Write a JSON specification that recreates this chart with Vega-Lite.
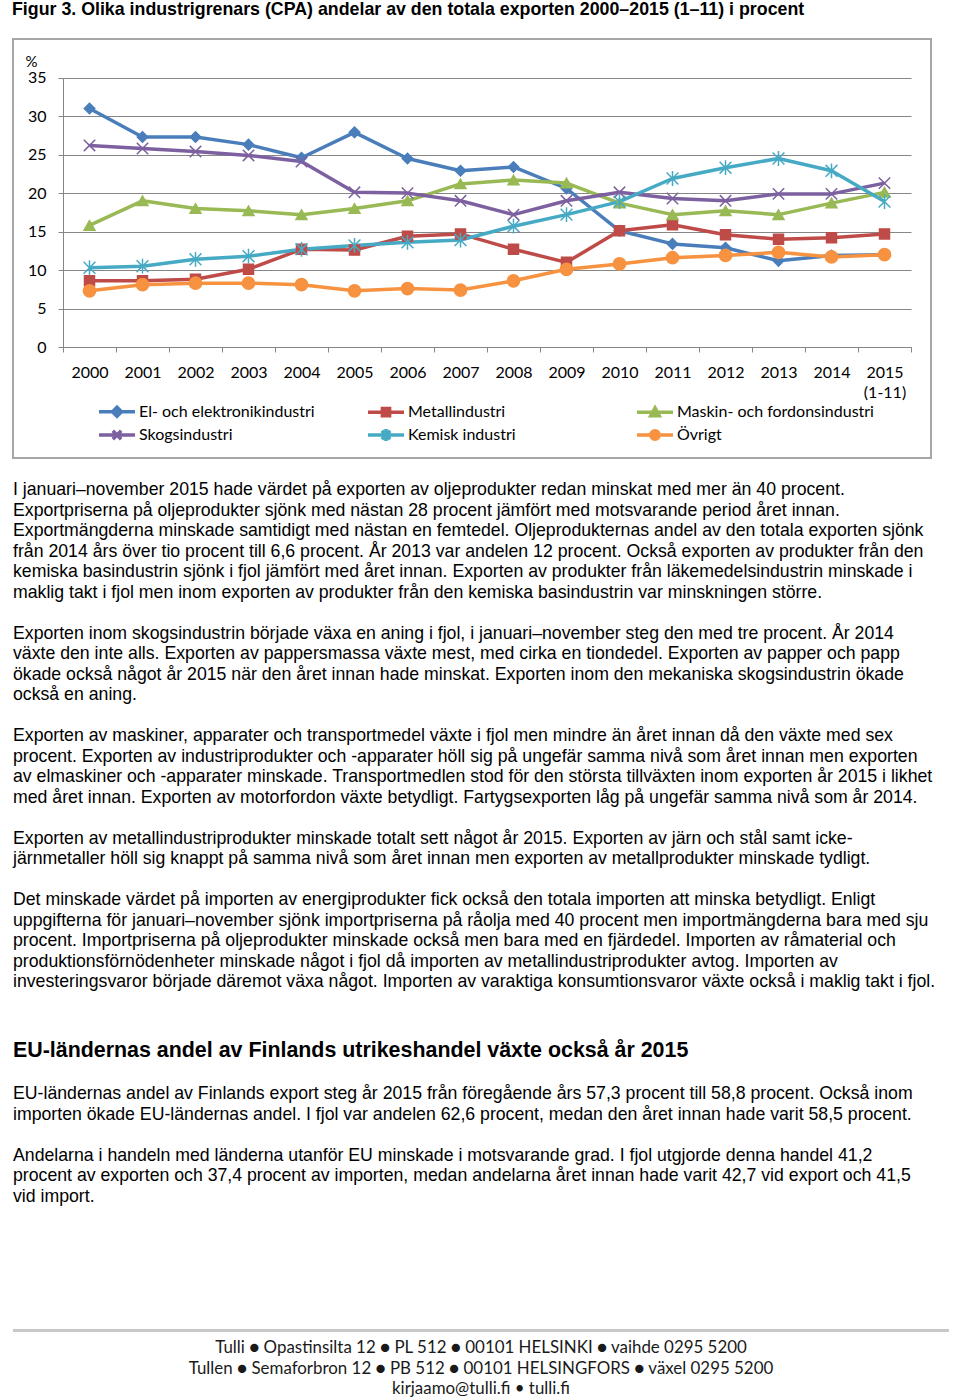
{
  "$schema": "https://vega.github.io/schema/vega-lite/v6.json",
  "background": "white",
  "padding": {"left": 12, "top": 1, "right": 12, "bottom": 0},
  "bounds": "flush",
  "spacing": 32,
  "title": {
    "text": "Figur 3. Olika industrigrenars (CPA) andelar av den totala exporten 2000–2015 (1–11) i procent",
    "anchor": "start",
    "font": "Liberation Sans",
    "fontSize": 17.8,
    "fontWeight": "bold",
    "color": "#000000",
    "offset": 19
  },
  "config": {
    "view": {"stroke": null},
    "font": "Lato"
  },
  "vconcat": [
    {
      "width": 918,
      "height": 419,
      "view": {"stroke": "#a6a6a6", "strokeWidth": 2},
      "data": {
        "values": [
          {"series": "El- och elektronikindustri", "year": "2000", "value": 31.0},
          {"series": "El- och elektronikindustri", "year": "2001", "value": 27.3},
          {"series": "El- och elektronikindustri", "year": "2002", "value": 27.3},
          {"series": "El- och elektronikindustri", "year": "2003", "value": 26.3},
          {"series": "El- och elektronikindustri", "year": "2004", "value": 24.6},
          {"series": "El- och elektronikindustri", "year": "2005", "value": 27.9},
          {"series": "El- och elektronikindustri", "year": "2006", "value": 24.5},
          {"series": "El- och elektronikindustri", "year": "2007", "value": 22.9},
          {"series": "El- och elektronikindustri", "year": "2008", "value": 23.4},
          {"series": "El- och elektronikindustri", "year": "2009", "value": 20.6},
          {"series": "El- och elektronikindustri", "year": "2010", "value": 15.1},
          {"series": "El- och elektronikindustri", "year": "2011", "value": 13.4},
          {"series": "El- och elektronikindustri", "year": "2012", "value": 12.9},
          {"series": "El- och elektronikindustri", "year": "2013", "value": 11.2},
          {"series": "El- och elektronikindustri", "year": "2014", "value": 11.9},
          {"series": "El- och elektronikindustri", "year": "2015", "value": 12.0},
          {"series": "Metallindustri", "year": "2000", "value": 8.6},
          {"series": "Metallindustri", "year": "2001", "value": 8.6},
          {"series": "Metallindustri", "year": "2002", "value": 8.8},
          {"series": "Metallindustri", "year": "2003", "value": 10.1},
          {"series": "Metallindustri", "year": "2004", "value": 12.7},
          {"series": "Metallindustri", "year": "2005", "value": 12.6},
          {"series": "Metallindustri", "year": "2006", "value": 14.4},
          {"series": "Metallindustri", "year": "2007", "value": 14.7},
          {"series": "Metallindustri", "year": "2008", "value": 12.7},
          {"series": "Metallindustri", "year": "2009", "value": 11.0},
          {"series": "Metallindustri", "year": "2010", "value": 15.1},
          {"series": "Metallindustri", "year": "2011", "value": 15.9},
          {"series": "Metallindustri", "year": "2012", "value": 14.6},
          {"series": "Metallindustri", "year": "2013", "value": 14.0},
          {"series": "Metallindustri", "year": "2014", "value": 14.2},
          {"series": "Metallindustri", "year": "2015", "value": 14.7},
          {"series": "Maskin- och fordonsindustri", "year": "2000", "value": 15.8},
          {"series": "Maskin- och fordonsindustri", "year": "2001", "value": 19.0},
          {"series": "Maskin- och fordonsindustri", "year": "2002", "value": 18.0},
          {"series": "Maskin- och fordonsindustri", "year": "2003", "value": 17.7},
          {"series": "Maskin- och fordonsindustri", "year": "2004", "value": 17.2},
          {"series": "Maskin- och fordonsindustri", "year": "2005", "value": 18.0},
          {"series": "Maskin- och fordonsindustri", "year": "2006", "value": 19.0},
          {"series": "Maskin- och fordonsindustri", "year": "2007", "value": 21.2},
          {"series": "Maskin- och fordonsindustri", "year": "2008", "value": 21.7},
          {"series": "Maskin- och fordonsindustri", "year": "2009", "value": 21.3},
          {"series": "Maskin- och fordonsindustri", "year": "2010", "value": 18.7},
          {"series": "Maskin- och fordonsindustri", "year": "2011", "value": 17.2},
          {"series": "Maskin- och fordonsindustri", "year": "2012", "value": 17.7},
          {"series": "Maskin- och fordonsindustri", "year": "2013", "value": 17.2},
          {"series": "Maskin- och fordonsindustri", "year": "2014", "value": 18.7},
          {"series": "Maskin- och fordonsindustri", "year": "2015", "value": 20.1},
          {"series": "Skogsindustri", "year": "2000", "value": 26.2},
          {"series": "Skogsindustri", "year": "2001", "value": 25.8},
          {"series": "Skogsindustri", "year": "2002", "value": 25.4},
          {"series": "Skogsindustri", "year": "2003", "value": 24.9},
          {"series": "Skogsindustri", "year": "2004", "value": 24.1},
          {"series": "Skogsindustri", "year": "2005", "value": 20.1},
          {"series": "Skogsindustri", "year": "2006", "value": 20.0},
          {"series": "Skogsindustri", "year": "2007", "value": 19.0},
          {"series": "Skogsindustri", "year": "2008", "value": 17.2},
          {"series": "Skogsindustri", "year": "2009", "value": 19.0},
          {"series": "Skogsindustri", "year": "2010", "value": 20.1},
          {"series": "Skogsindustri", "year": "2011", "value": 19.3},
          {"series": "Skogsindustri", "year": "2012", "value": 19.0},
          {"series": "Skogsindustri", "year": "2013", "value": 19.9},
          {"series": "Skogsindustri", "year": "2014", "value": 19.9},
          {"series": "Skogsindustri", "year": "2015", "value": 21.3},
          {"series": "Kemisk industri", "year": "2000", "value": 10.3},
          {"series": "Kemisk industri", "year": "2001", "value": 10.5},
          {"series": "Kemisk industri", "year": "2002", "value": 11.4},
          {"series": "Kemisk industri", "year": "2003", "value": 11.8},
          {"series": "Kemisk industri", "year": "2004", "value": 12.7},
          {"series": "Kemisk industri", "year": "2005", "value": 13.2},
          {"series": "Kemisk industri", "year": "2006", "value": 13.6},
          {"series": "Kemisk industri", "year": "2007", "value": 13.9},
          {"series": "Kemisk industri", "year": "2008", "value": 15.7},
          {"series": "Kemisk industri", "year": "2009", "value": 17.2},
          {"series": "Kemisk industri", "year": "2010", "value": 18.9},
          {"series": "Kemisk industri", "year": "2011", "value": 21.9},
          {"series": "Kemisk industri", "year": "2012", "value": 23.3},
          {"series": "Kemisk industri", "year": "2013", "value": 24.5},
          {"series": "Kemisk industri", "year": "2014", "value": 22.9},
          {"series": "Kemisk industri", "year": "2015", "value": 18.9},
          {"series": "Övrigt", "year": "2000", "value": 7.3},
          {"series": "Övrigt", "year": "2001", "value": 8.1},
          {"series": "Övrigt", "year": "2002", "value": 8.3},
          {"series": "Övrigt", "year": "2003", "value": 8.3},
          {"series": "Övrigt", "year": "2004", "value": 8.1},
          {"series": "Övrigt", "year": "2005", "value": 7.3},
          {"series": "Övrigt", "year": "2006", "value": 7.6},
          {"series": "Övrigt", "year": "2007", "value": 7.4},
          {"series": "Övrigt", "year": "2008", "value": 8.6},
          {"series": "Övrigt", "year": "2009", "value": 10.1},
          {"series": "Övrigt", "year": "2010", "value": 10.8},
          {"series": "Övrigt", "year": "2011", "value": 11.6},
          {"series": "Övrigt", "year": "2012", "value": 11.9},
          {"series": "Övrigt", "year": "2013", "value": 12.3},
          {"series": "Övrigt", "year": "2014", "value": 11.7},
          {"series": "Övrigt", "year": "2015", "value": 12.0}
        ]
      },
      "encoding": {
        "x": {
          "field": "year",
          "type": "ordinal",
          "bandPosition": 0.5,
          "scale": {"type": "band", "range": [50, 898], "paddingInner": 0, "paddingOuter": 0},
          "axis": {
            "orient": "bottom",
            "offset": -111,
            "title": null,
            "grid": false,
            "domain": true,
            "domainColor": "#868686",
            "domainWidth": 1,
            "ticks": true,
            "tickBand": "extent",
            "tickSize": 5,
            "tickColor": "#868686",
            "labelAngle": 0,
            "labelPadding": 12,
            "labelFont": "Lato",
            "labelFontSize": 16,
            "labelColor": "#000000",
            "labelLineHeight": 20,
            "labelExpr": "datum.value == '2015' ? ['2015', '(1-11)'] : datum.label"
          }
        },
        "y": {
          "field": "value",
          "type": "quantitative",
          "scale": {"domain": [0, 35], "range": [308, 38.7], "nice": false, "zero": true},
          "axis": {
            "orient": "left",
            "offset": -50,
            "values": [0, 5, 10, 15, 20, 25, 30, 35],
            "grid": true,
            "gridColor": "#868686",
            "gridWidth": 1,
            "domain": true,
            "domainColor": "#868686",
            "ticks": true,
            "tickSize": 5,
            "tickColor": "#868686",
            "labelPadding": 12,
            "labelFont": "Lato",
            "labelFontSize": 16,
            "labelColor": "#000000",
            "title": "%",
            "titleAngle": 0,
            "titleX": -32,
            "titleY": 22,
            "titleAlign": "center",
            "titleBaseline": "middle",
            "titleFont": "Lato",
            "titleFontSize": 15,
            "titleFontWeight": "normal",
            "titleColor": "#000000"
          }
        }
      },
      "layer": [
        {
          "mark": {"type": "line", "strokeWidth": 3.5, "strokeJoin": "round"},
          "encoding": {
            "color": {
              "field": "series",
              "type": "nominal",
              "scale": {
                "domain": ["El- och elektronikindustri", "Metallindustri", "Maskin- och fordonsindustri", "Skogsindustri", "Kemisk industri", "Övrigt"],
                "range": ["#4a7ebb", "#be4b48", "#98b954", "#7d60a0", "#46aac5", "#f69240"]
              },
              "legend": {
                "orient": "none",
                "legendX": 108,
                "legendY": 364,
                "direction": "horizontal",
                "columns": 3,
                "title": null,
                "gridAlign": "all",
                "columnPadding": 25,
                "rowPadding": -2,
                "padding": 0,
                "labelFont": "Lato",
                "labelFontSize": 16,
                "labelColor": "#000000",
                "labelOffset": 2,
                "labelLimit": 400,
                "symbolSize": 144,
                "symbolStrokeWidth": 3.5,
                "encode": {
                  "symbols": {
                    "update": {
                      "shape": {"signal": "datum.value === 'El- och elektronikindustri' ? 'M-5,0L1,0M-2.75,0L-2,-0.75L-1.25,0L-2,0.75Z' : datum.value === 'Metallindustri' ? 'M-5,0L1,0M-2.6,-0.6L-1.4,-0.6L-1.4,0.6L-2.6,0.6Z' : datum.value === 'Maskin- och fordonsindustri' ? 'M-5,0L1,0M-2,-0.75L-1.3,0.55L-2.7,0.55Z' : datum.value === 'Skogsindustri' ? 'M-5,0L1,0M-2.7,-0.7L-1.3,0.7M-1.3,-0.7L-2.7,0.7' : datum.value === 'Kemisk industri' ? 'M-5,0L1,0M-2.7,-0.7L-1.3,0.7M-1.3,-0.7L-2.7,0.7M-2,-1L-2,1' : 'M-5,0L1,0M-1.3,0A0.7,0.7,0,1,1,-2.7,0A0.7,0.7,0,1,1,-1.3,0Z'"},
                      "fill": {"scale": "color", "field": "value"},
                      "stroke": {"scale": "color", "field": "value"},
                      "strokeWidth": {"value": 3.5},
                      "size": {"value": 144},
                      "opacity": {"value": 1}
                    }
                  }
                }
              }
            }
          }
        },
        {
          "mark": {"type": "point", "filled": true, "opacity": 1, "strokeWidth": 1.5},
          "encoding": {
            "color": {"field": "series", "type": "nominal"},
            "stroke": {
              "field": "series",
              "type": "nominal",
              "scale": {
                "domain": ["El- och elektronikindustri", "Maskin- och fordonsindustri", "Metallindustri", "Skogsindustri", "Kemisk industri", "Övrigt"],
                "range": ["#4a7ebb", "#98b954", "#be4b48", "#7d60a0", "#46aac5", "#f69240"]
              },
              "legend": null
            },
            "shape": {
              "field": "series",
              "type": "nominal",
              "scale": {
                "domain": ["Övrigt", "Kemisk industri", "Skogsindustri", "Maskin- och fordonsindustri", "Metallindustri", "El- och elektronikindustri"],
                "range": ["circle", "M-1,-1L1,1M1,-1L-1,1M0,-1.25L0,1.25", "M-1,-1L1,1M1,-1L-1,1", "triangle-up", "square", "diamond"]
              },
              "legend": null
            },
            "size": {
              "field": "series",
              "type": "nominal",
              "scale": {
                "domain": ["Metallindustri", "El- och elektronikindustri", "Maskin- och fordonsindustri", "Skogsindustri", "Kemisk industri", "Övrigt"],
                "range": [100, 150, 120, 121, 144, 132]
              },
              "legend": null
            }
          }
        }
      ]
    },
    {
      "width": 936,
      "height": 902,
      "data": {
        "values": [
          {"n": 0, "kind": "p", "text": "I januari–november 2015 hade värdet på exporten av oljeprodukter redan minskat med mer än 40 procent."},
          {"n": 1, "kind": "p", "text": "Exportpriserna på oljeprodukter sjönk med nästan 28 procent jämfört med motsvarande period året innan."},
          {"n": 2, "kind": "p", "text": "Exportmängderna minskade samtidigt med nästan en femtedel. Oljeprodukternas andel av den totala exporten sjönk"},
          {"n": 3, "kind": "p", "text": "från 2014 års över tio procent till 6,6 procent. År 2013 var andelen 12 procent. Också exporten av produkter från den"},
          {"n": 4, "kind": "p", "text": "kemiska basindustrin sjönk i fjol jämfört med året innan. Exporten av produkter från läkemedelsindustrin minskade i"},
          {"n": 5, "kind": "p", "text": "maklig takt i fjol men inom exporten av produkter från den kemiska basindustrin var minskningen större."},
          {"n": 7, "kind": "p", "text": "Exporten inom skogsindustrin började växa en aning i fjol, i januari–november steg den med tre procent. År 2014"},
          {"n": 8, "kind": "p", "text": "växte den inte alls. Exporten av pappersmassa växte mest, med cirka en tiondedel. Exporten av papper och papp"},
          {"n": 9, "kind": "p", "text": "ökade också något år 2015 när den året innan hade minskat. Exporten inom den mekaniska skogsindustrin ökade"},
          {"n": 10, "kind": "p", "text": "också en aning."},
          {"n": 12, "kind": "p", "text": "Exporten av maskiner, apparater och transportmedel växte i fjol men mindre än året innan då den växte med sex"},
          {"n": 13, "kind": "p", "text": "procent. Exporten av industriprodukter och -apparater höll sig på ungefär samma nivå som året innan men exporten"},
          {"n": 14, "kind": "p", "text": "av elmaskiner och -apparater minskade. Transportmedlen stod för den största tillväxten inom exporten år 2015 i likhet"},
          {"n": 15, "kind": "p", "text": "med året innan. Exporten av motorfordon växte betydligt. Fartygsexporten låg på ungefär samma nivå som år 2014."},
          {"n": 17, "kind": "p", "text": "Exporten av metallindustriprodukter minskade totalt sett något år 2015. Exporten av järn och stål samt icke-"},
          {"n": 18, "kind": "p", "text": "järnmetaller höll sig knappt på samma nivå som året innan men exporten av metallprodukter minskade tydligt."},
          {"n": 20, "kind": "p", "text": "Det minskade värdet på importen av energiprodukter fick också den totala importen att minska betydligt. Enligt"},
          {"n": 21, "kind": "p", "text": "uppgifterna för januari–november sjönk importpriserna på råolja med 40 procent men importmängderna bara med sju"},
          {"n": 22, "kind": "p", "text": "procent. Importpriserna på oljeprodukter minskade också men bara med en fjärdedel. Importen av råmaterial och"},
          {"n": 23, "kind": "p", "text": "produktionsförnödenheter minskade något i fjol då importen av metallindustriprodukter avtog. Importen av"},
          {"n": 24, "kind": "p", "text": "investeringsvaror började däremot växa något. Importen av varaktiga konsumtionsvaror växte också i maklig takt i fjol."},
          {"n": 27, "kind": "h", "text": "EU-ländernas andel av Finlands utrikeshandel växte också år 2015"},
          {"n": 29, "kind": "q", "text": "EU-ländernas andel av Finlands export steg år 2015 från föregående års 57,3 procent till 58,8 procent. Också inom"},
          {"n": 30, "kind": "q", "text": "importen ökade EU-ländernas andel. I fjol var andelen 62,6 procent, medan den året innan hade varit 58,5 procent."},
          {"n": 32, "kind": "q", "text": "Andelarna i handeln med länderna utanför EU minskade i motsvarande grad. I fjol utgjorde denna handel 41,2"},
          {"n": 33, "kind": "q", "text": "procent av exporten och 37,4 procent av importen, medan andelarna året innan hade varit 42,7 vid export och 41,5"},
          {"n": 34, "kind": "q", "text": "vid import."},
          {"n": 42, "kind": "f", "text": "Tulli ● Opastinsilta 12 ● PL 512 ● 00101 HELSINKI ● vaihde 0295 5200"},
          {"n": 43, "kind": "f", "text": "Tullen ● Semaforbron 12 ● PB 512 ● 00101 HELSINGFORS ● växel 0295 5200"},
          {"n": 44, "kind": "f", "text": "kirjaamo@tulli.fi • tulli.fi"}
        ]
      },
      "encoding": {
        "y": {
          "field": "n",
          "type": "quantitative",
          "scale": {"domain": [0, 44], "reverse": true, "nice": false, "zero": false},
          "axis": null
        }
      },
      "layer": [
        {
          "transform": [{"filter": "datum.kind == 'p'"}],
          "mark": {"type": "text", "align": "left", "baseline": "middle", "font": "Liberation Sans", "fontSize": 17.7, "color": "#000000"},
          "encoding": {"x": {"value": 0}, "text": {"field": "text"}}
        },
        {
          "transform": [{"filter": "datum.kind == 'q'"}],
          "mark": {"type": "text", "align": "left", "baseline": "middle", "font": "Liberation Sans", "fontSize": 17.7, "color": "#000000", "dy": 9.5},
          "encoding": {"x": {"value": 0}, "text": {"field": "text"}}
        },
        {
          "transform": [{"filter": "datum.kind == 'h'"}],
          "mark": {"type": "text", "align": "left", "baseline": "middle", "font": "Liberation Sans", "fontSize": 21.4, "fontWeight": "bold", "color": "#000000", "dy": 7.5},
          "encoding": {"x": {"value": 0}, "text": {"field": "text"}}
        },
        {
          "mark": {"type": "rule", "color": "#c8c8c8", "strokeWidth": 1.5},
          "encoding": {"y": {"datum": 41, "type": "quantitative"}}
        },
        {
          "transform": [{"filter": "datum.kind == 'f'"}],
          "mark": {"type": "text", "align": "center", "baseline": "middle", "font": "Lato", "fontSize": 16.9, "color": "#1a1a1a", "dy": -3},
          "encoding": {"text": {"field": "text"}}
        }
      ]
    }
  ]
}
